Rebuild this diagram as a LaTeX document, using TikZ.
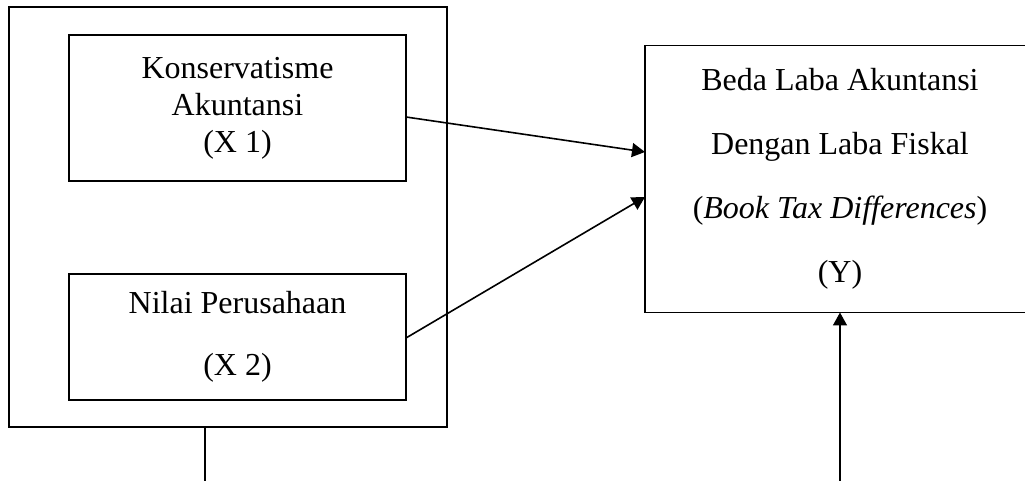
\documentclass[tikz,border=0pt]{standalone}
\usepackage{fontspec}
\setmainfont{Liberation Serif}
\usetikzlibrary{arrows.meta,calc}

\begin{document}
\begin{tikzpicture}[x=0.5pt, y=-0.5pt]
    % Define styles
    \tikzset{
        frame/.style={
            draw,
            rectangle,
            line width=0.8pt,
            inner sep=0pt,
            outer sep=0pt
        },
        groupbox/.style={
            frame,
            minimum width=219pt,
            minimum height=210pt
        },
        varbox/.style={
            frame,
            minimum width=168.5pt,
            align=center
        },
        depbox/.style={
            frame,
            minimum width=195pt,
            minimum height=133.5pt,
            align=center,
            font=\fontsize{16}{32}\selectfont
        },
        arrow/.style={
            -{Triangle[length=6.5pt,width=7pt]},
            line width=0.8pt
        },
        link/.style={
            line width=0.8pt
        }
    }

    \useasboundingbox (0,0) rectangle (1025,481);

    % Independent variables
    \node[groupbox] (indep) at (228,217) {};
    \node[varbox, minimum height=73pt, font=\fontsize{16}{18.5}\selectfont] (konserv) at (237.5,108) {Konservatisme\\Akuntansi\\(X 1)};
    \node[varbox, minimum height=63pt, font=\fontsize{16}{31}\selectfont] (nilai) at (237.5,337) {Nilai Perusahaan\\(X 2)};

    % Dependent variable
    \node[depbox] (btd) at (840,179) {Beda Laba Akuntansi\\Dengan Laba Fiskal\\(\textit{Book Tax Differences})\\(Y)};

    % Loose ends at the bottom
    \coordinate (independ) at (205,481);
    \coordinate (btdstart) at (840,481);

    % Connections
    \draw[arrow] ($(konserv.east)+(0,9)$) -- ($(btd.west)+(0,-27)$);
    \draw[arrow] ($(nilai.east)+(0,1)$) -- ($(btd.west)+(0,18)$);
    \draw[link] (indep.south -| independ) -- (independ);
    \draw[arrow] (btdstart) -- (btd.south);

\end{tikzpicture}
\end{document}
